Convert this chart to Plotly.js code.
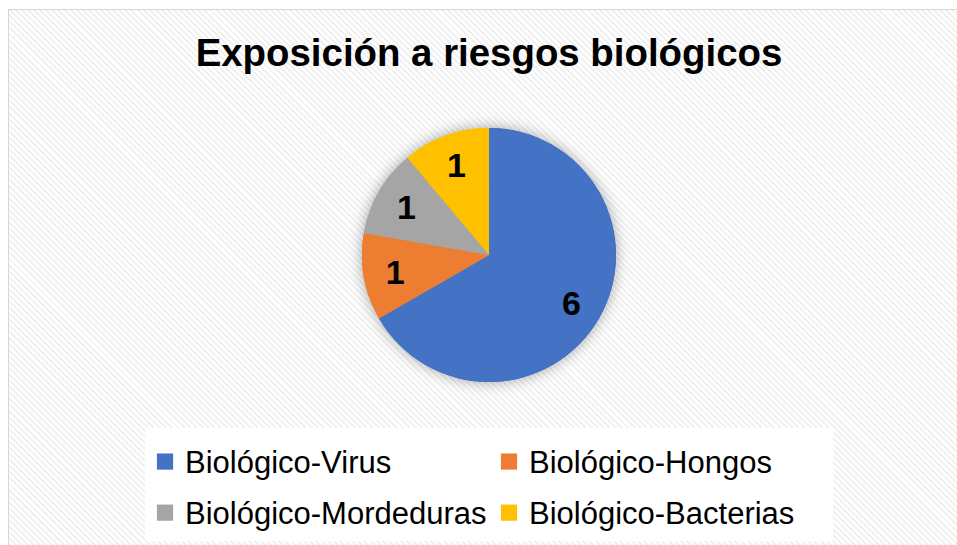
<!DOCTYPE html>
<html>
<head>
<meta charset="utf-8">
<script src="https://cdn.plot.ly/plotly-3.0.1.min.js"></script>
<style>
  html, body { margin: 0; padding: 0; background: #ffffff; }
  #wrap { position: relative; width: 957px; height: 545px; overflow: hidden; background: #ffffff; }
  #bg {
    position: absolute; left: 8px; top: 9px; width: 960px; height: 545px;
    border-left: 1px solid #d6d6d6; border-top: 1px solid #d6d6d6;
    background: repeating-linear-gradient(45deg, #ffffff 0px, #ffffff 2.2px, #f1f1f1 2.2px, #f1f1f1 4.3px);
  }
  #chart { position: absolute; left: 0; top: 0; width: 957px; height: 545px; }
  #chart .pielayer .trace:first-child { filter: drop-shadow(0px 0px 7px rgba(0,0,0,0.35)); }
  #chart .legendpie { transform: translate(20px, 3px) scale(1.35); }
</style>
</head>
<body>
<div id="wrap">
  <div id="bg"></div>
  <div id="chart"></div>
</div>
<script>
const chartTitle = 'Exposición a riesgos biológicos';
const categories = ['Biológico-Virus', 'Biológico-Hongos', 'Biológico-Mordeduras', 'Biológico-Bacterias'];
const counts = [6, 1, 1, 1];
const sliceColors = ['#4472C4', '#ED7D31', '#A5A5A5', '#FFC000'];

const W = 957, H = 545;
const legendLabels = categories.map(c => '<span style="font-size:31px">' + c + '</span>');
const pieDomain = { x: [0, 1], y: [1 - 382 / H, 1 - 128 / H] };

// full pie (colour fill + shadow)
const basePie = {
  type: 'pie',
  labels: legendLabels,
  values: counts,
  sort: false,
  direction: 'clockwise',
  rotation: 0,
  marker: { colors: sliceColors, line: { width: 0 } },
  textinfo: 'none',
  domain: pieDomain,
  hoverinfo: 'skip'
};

// identical pie with a hole, used only so the value labels sit out toward the rim
const labelPie = {
  type: 'pie',
  labels: legendLabels,
  values: counts,
  sort: false,
  direction: 'clockwise',
  rotation: 0,
  hole: 0.5,
  marker: { colors: sliceColors, line: { width: 0 } },
  textinfo: 'value',
  textposition: 'inside',
  insidetextorientation: 'horizontal',
  insidetextfont: { family: 'Liberation Sans, Arial, sans-serif', size: 34, color: '#000000', weight: 'bold' },
  domain: pieDomain,
  showlegend: false,
  hoverinfo: 'skip'
};

const layout = {
  width: W, height: H,
  margin: { l: 30, r: 9, t: 0, b: 0 },
  paper_bgcolor: 'rgba(0,0,0,0)',
  plot_bgcolor: 'rgba(0,0,0,0)',
  title: {
    text: '<b>' + chartTitle + '</b>',
    x: 0.5, xref: 'paper', xanchor: 'center',
    y: 1 - 53 / H, yref: 'container', yanchor: 'middle',
    font: { family: 'Liberation Sans, Arial, sans-serif', size: 38.4, color: '#000000' }
  },
  showlegend: true,
  legend: {
    orientation: 'h',
    x: 0.5, xanchor: 'center', xref: 'paper',
    y: 1 - 428 / H, yanchor: 'top', yref: 'paper',
    bgcolor: '#ffffff',
    borderwidth: 0,
    font: { family: 'Liberation Sans, Arial, sans-serif', size: 37, color: '#000000' },
    entrywidth: 299,
    traceorder: 'normal'
  },
  hovermode: false
};

Plotly.newPlot('chart', [basePie, labelPie], layout, { displayModeBar: false, staticPlot: true });
</script>
</body>
</html>
